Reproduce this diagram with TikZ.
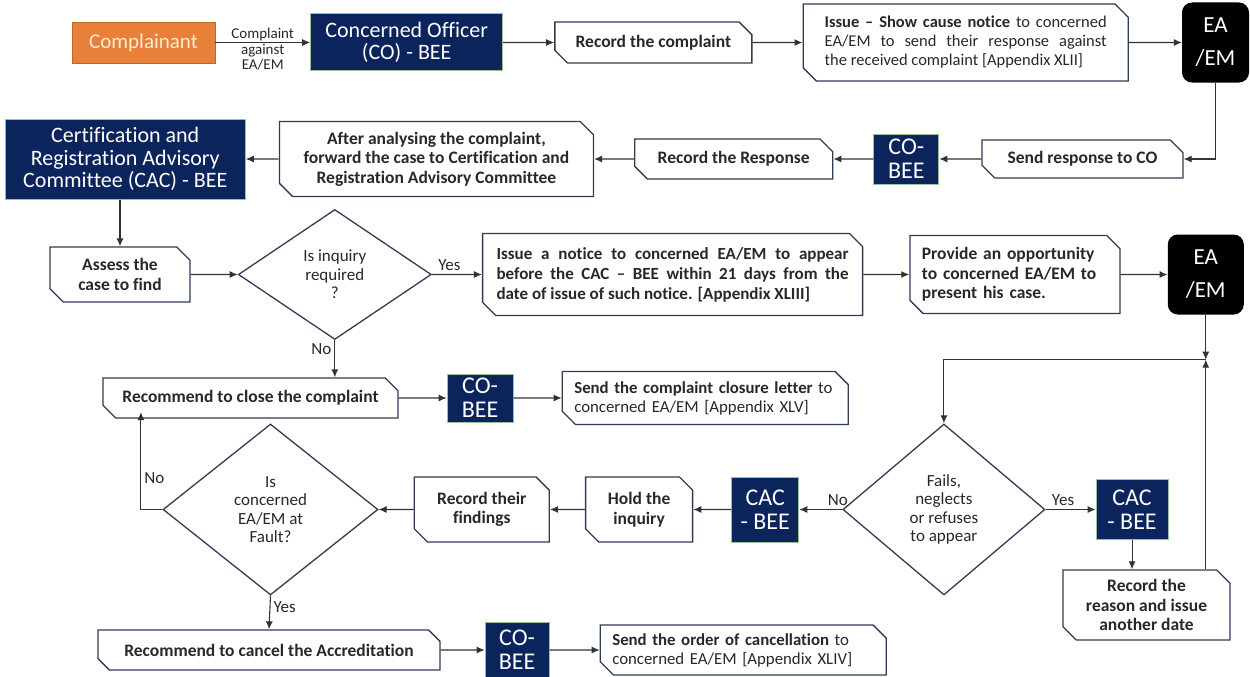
\documentclass[tikz,border=0pt]{standalone}
\usepackage{fontspec}
\setmainfont{Carlito}[Ligatures={TeX,NoCommon}]
\usetikzlibrary{arrows.meta,positioning,shapes.misc,shapes.geometric,calc}

\definecolor{navyc}{RGB}{12,36,92}
\definecolor{rimc}{RGB}{150,196,150}
\definecolor{orangec}{RGB}{232,128,60}
\definecolor{creamc}{RGB}{253,236,205}
\definecolor{edgec}{RGB}{48,60,84}
\definecolor{txtc}{RGB}{40,40,40}

\begin{document}
\begin{tikzpicture}[
  x=1pt, y=1pt,
  font=\fontsize{17.5}{19.5}\selectfont,
  proc/.style={chamfered rectangle, chamfered rectangle corners={north east,south west},
    chamfered rectangle xsep=10pt, draw=edgec, line width=1.3pt, fill=white, text=txtc,
    align=center, inner sep=2pt, font=\fontsize{17.5}{19.5}\selectfont\bfseries},
  navy/.style={draw=rimc, line width=1pt, fill=navyc, text=white, align=center,
    inner sep=2pt, font=\fontsize{22}{22.5}\selectfont},
  small/.style={navy, font=\fontsize{24}{24}\selectfont},
  ea/.style={fill=black, rounded corners=10pt, text=white, align=center,
    inner sep=2pt, font=\fontsize{23}{33}\selectfont},
  start/.style={fill=orangec, draw=orangec!80!black, text=creamc, inner sep=2pt,
    font=\fontsize{21}{24}\selectfont},
  dec/.style={diamond, draw=edgec, line width=1.3pt, fill=white, text=txtc,
    align=center, inner sep=0pt, font=\fontsize{17}{18.5}\selectfont},
  arrow/.style={-{Latex[length=8pt,width=7pt]}, draw=black!80, line width=1.1pt},
  lbl/.style={text=txtc, inner sep=3pt, font=\fontsize{17}{19}\selectfont}
]
\useasboundingbox (0,0) rectangle (1250,-677);

% row 1
\node[start, minimum width=143pt, minimum height=41pt] (cmpl) at (143.5,-42.5) {Complainant};
\node[navy, minimum width=192pt, minimum height=57pt, right=95pt of cmpl] (co) {Concerned Officer\\(CO) - BEE};
\node[proc, minimum width=197pt, minimum height=41pt, right=51pt of co] (rec) {Record the complaint};
\node[proc, minimum width=325pt, minimum height=77pt, text width=282pt, align=justify,
  font=\fontsize{16.5}{19}\selectfont, right=50pt of rec] (show)
  {\textbf{Issue -- Show cause notice} to concerned\linebreak EA/EM to send their response against\linebreak the received complaint [Appendix XLII]};
\node[ea, minimum width=67pt, minimum height=80pt, right=53pt of show] (ea) {EA\\/EM};

% row 2
\node[proc, minimum width=201pt, minimum height=38pt] (send) at (1082.5,-159) {Send response to CO};
\node[small, minimum width=65pt, minimum height=50pt, left=42pt of send] (cob) {CO-\\BEE};
\node[proc, minimum width=198pt, minimum height=40pt, left=40pt of cob] (resp) {Record the Response};
\node[proc, minimum width=314pt, minimum height=75pt, left=40pt of resp] (fwd)
  {After analysing the complaint,\\forward the case to Certification and\\Registration Advisory Committee};
\node[navy, minimum width=240pt, minimum height=80pt, left=33pt of fwd] (cac)
  {Certification and\\Registration Advisory\\Committee (CAC) - BEE};

% row 3
\node[proc, minimum width=140pt, minimum height=55pt] (assess) at (120,-274.5) {Assess the\\case to find};
\node[dec, minimum width=193pt, minimum height=130pt, right=47pt of assess] (inq) {Is inquiry\\required\\?};
\node[proc, minimum width=380pt, minimum height=82pt, text width=352pt, align=justify,
  font=\fontsize{17}{20}\selectfont\bfseries, right=50pt of inq] (notice)
  {Issue a notice to concerned EA/EM to appear\linebreak before the CAC -- BEE within 21 days from the\linebreak date of issue of such notice. [Appendix XLIII]};
\node[proc, minimum width=199pt, minimum height=78pt, text width=186pt, align=left, right=46pt of notice] (offer)
  {Provide an opportunity\\to concerned EA/EM to\\present his case.};
\node[ea, minimum width=76pt, minimum height=80pt, right=47pt of offer] (ea2) {EA\\/EM};

% row 4
\node[proc, minimum width=295pt, minimum height=40pt] (close) at (250.5,-398) {Recommend to close the complaint};
\node[small, minimum width=66pt, minimum height=48pt, right=48pt of close] (cob2) {CO-\\BEE};
\node[proc, minimum width=278pt, minimum height=53pt, text width=262pt, align=left,
  font=\fontsize{16.8}{19}\selectfont, right=48pt of cob2] (letter)
  {\textbf{Send the complaint closure letter} to\\concerned EA/EM [Appendix XLV]};

% row 5
\node[dec, minimum width=215pt, minimum height=171pt] (fault) at (270.5,-509.5) {Is\\concerned\\EA/EM at\\Fault?};
\node[proc, minimum width=135pt, minimum height=65pt, right=35pt of fault] (find) {Record their\\findings};
\node[proc, minimum width=107pt, minimum height=65pt, right=35pt of find] (hold) {Hold the\\inquiry};
\node[small, minimum width=67pt, minimum height=65pt, right=38pt of hold] (cac2) {CAC\\- BEE};
\node[dec, minimum width=202pt, minimum height=171pt, right=43pt of cac2] (fails) {Fails,\\neglects\\or refuses\\to appear};
\node[small, minimum width=72pt, minimum height=60pt, right=50pt of fails] (cac3) {CAC\\- BEE};
\node[proc, minimum width=167pt, minimum height=70pt] (reason) at (1146.5,-605) {Record the\\reason and issue\\another date};

% row 6
\node[proc, minimum width=342pt, minimum height=40pt] (cancel) at (269,-650) {Recommend to cancel the Accreditation};
\node[small, minimum width=64pt, minimum height=55pt, right=44pt of cancel] (cob3) {CO-\\BEE};
\node[proc, minimum width=282pt, minimum height=50pt, text width=262pt, align=left,
  font=\fontsize{16.8}{19}\selectfont, right=50pt of cob3] (order)
  {\textbf{Send the order of cancellation} to\\concerned EA/EM [Appendix XLIV]};

% connectors
\draw[arrow] (cmpl) -- node[lbl, midway, align=center, yshift=-7pt, font=\fontsize{15}{15.5}\selectfont] {Complaint\\against\\EA/EM} (co);
\draw[arrow] (co) -- (rec);
\draw[arrow] (rec) -- (show);
\draw[arrow] (show) -- (ea);
\draw[arrow] (ea.south) |- (send.east);
\draw[arrow] (send) -- (cob);
\draw[arrow] (cob) -- (resp);
\draw[arrow] (resp) -- (fwd);
\draw[arrow] (fwd) -- (cac);
\draw[arrow] (assess.north |- cac.south) -- (assess.north);
\draw[arrow] (assess) -- (inq);
\draw[arrow] (inq) -- node[lbl, above, pos=0.35] {Yes} (notice);
\draw[arrow] (notice) -- (offer);
\draw[arrow] (offer) -- (ea2);
\draw[arrow] (inq.south) -- node[lbl, left, pos=0.25] {No} (inq.south |- close.north);
\draw[arrow] (close) -- (cob2);
\draw[arrow] (cob2) -- (letter);

\coordinate (meet) at ($(ea2.south)+(0,-45)$);
\draw[arrow] (ea2.south) -- (meet);
\draw[arrow] (meet |- reason.north) -- (meet);
\draw[arrow] (meet) -| (fails.north);

\draw[arrow] (fails) -- node[lbl, above, pos=0.1] {No} (cac2);
\draw[arrow] (cac2) -- (hold);
\draw[arrow] (hold) -- (find);
\draw[arrow] (find) -- (fault);
\draw[arrow] (fails) -- node[lbl, above, pos=0.35] {Yes} (cac3);
\draw[arrow] (cac3.south) -- (cac3.south |- reason.north);
\draw[arrow] (fault.west) -| node[lbl, right, pos=0.66] {No} ($(close.south west)+(32,0)$);
\draw[arrow] (fault.south) -- node[lbl, right, pos=0.35] {Yes} (cancel.north);
\draw[arrow] (cancel) -- (cob3);
\draw[arrow] (cob3) -- (order);

\end{tikzpicture}
\end{document}
